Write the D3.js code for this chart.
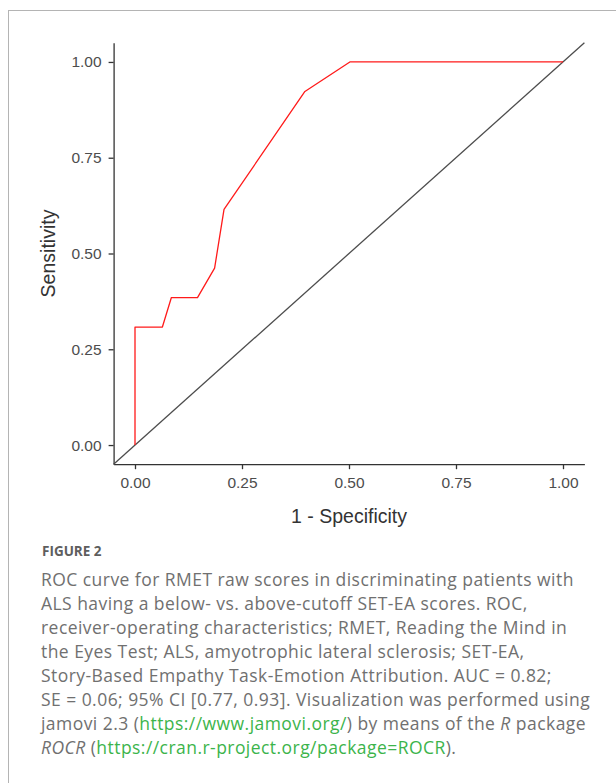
<!DOCTYPE html>
<html>
<head>
<meta charset="utf-8">
<script src="https://cdn.jsdelivr.net/npm/d3@7"></script>
<style>
  body { margin: 0; background: #fff; }
  svg { display: block; }
  .tick text { font-family: "Liberation Sans", Arial, sans-serif; }
</style>
</head>
<body>
<svg id="chart"></svg>
<script>
// ROC points
const fpr = [0, 0, 0.064, 0.085, 0.146, 0.186, 0.208, 0.397, 0.502, 1.0];
const tpr = [0, 0.308, 0.308, 0.385, 0.385, 0.462, 0.615, 0.923, 1.0, 1.0];
const refLine = [-0.05, 1.05];
const tickVals = [0, 0.25, 0.5, 0.75, 1];
const xTitle = '1 - Specificity', yTitle = 'Sensitivity';
const figLabel = 'FIGURE 2';
// caption lines, segments: [text, kind]
const caption = [
  [['ROC curve for RMET raw scores in discriminating patients with', 't']],
  [['ALS having a below- vs. above-cutoff SET-EA scores. ROC,', 't']],
  [['receiver-operating characteristics; RMET, Reading the Mind in', 't']],
  [['the Eyes Test; ALS, amyotrophic lateral sclerosis; SET-EA,', 't']],
  [['Story-Based Empathy Task-Emotion Attribution. AUC = 0.82;', 't']],
  [['SE = 0.06; 95% CI [0.77, 0.93]. Visualization was performed using', 't']],
  [['jamovi 2.3 (', 't'], ['https://www.jamovi.org/', 'a'], [') by means of the ', 't'], ['R', 'i'], [' package', 't']],
  [['ROCR', 'i'], [' (', 't'], ['https://cran.r-project.org/package=ROCR', 'a'], [').', 't']]
];

const W = 616, H = 783;
const svg = d3.select('#chart').attr('width', W).attr('height', H);

// frame
svg.append('rect')
  .attr('x', 8.5).attr('y', 10.5)
  .attr('width', 700).attr('height', 900)
  .attr('fill', 'none').attr('stroke', '#b4b4b4').attr('stroke-width', 1);

const xScale = d3.scaleLinear().domain([-0.05, 1.05]).range([113.6, 584.4]);
const yScale = d3.scaleLinear().domain([-0.05, 1.05]).range([464.2, 42.8]);

const axisCol = '#333333', tickTxt = '#4d4d4d';

const xAxis = d3.axisBottom(xScale).tickValues(tickVals).tickFormat(d3.format('.2f'))
  .tickSizeInner(5).tickSizeOuter(0).tickPadding(8);
const yAxis = d3.axisLeft(yScale).tickValues(tickVals).tickFormat(d3.format('.2f'))
  .tickSizeInner(5).tickSizeOuter(0).tickPadding(7);

const gx = svg.append('g').attr('transform', `translate(0, ${yScale(-0.05)})`).call(xAxis);
const gy = svg.append('g').attr('transform', `translate(${xScale(-0.05)}, 0)`).call(yAxis);
[gx, gy].forEach(g => {
  g.select('.domain').attr('stroke', axisCol).attr('stroke-width', 1.3);
  g.selectAll('.tick line').attr('stroke', axisCol).attr('stroke-width', 1.3);
  g.selectAll('.tick text').attr('fill', tickTxt).style('font-size', '15.5px');
});

// chance diagonal
svg.append('line')
  .attr('x1', xScale(refLine[0])).attr('y1', yScale(refLine[0]))
  .attr('x2', xScale(refLine[1])).attr('y2', yScale(refLine[1]))
  .attr('stroke', '#4d4d4d').attr('stroke-width', 1.3);

// ROC curve
const pts = fpr.map((v, i) => [v, tpr[i]]);
svg.append('path')
  .datum(pts)
  .attr('fill', 'none')
  .attr('stroke', '#ff1a1a')
  .attr('stroke-width', 1.3)
  .attr('stroke-linejoin', 'round')
  .attr('d', d3.line().x(d => xScale(d[0])).y(d => yScale(d[1])));

// axis titles
svg.append('text')
  .attr('x', (xScale(-0.05) + xScale(1.05)) / 2).attr('y', 523)
  .attr('text-anchor', 'middle')
  .style('font-family', '"Liberation Sans", Arial, sans-serif')
  .style('font-size', '19.5px').attr('fill', '#333')
  .text(xTitle);
svg.append('text')
  .attr('transform', `translate(55, ${(yScale(-0.05) + yScale(1.05)) / 2}) rotate(-90)`)
  .attr('text-anchor', 'middle')
  .style('font-family', '"Liberation Sans", Arial, sans-serif')
  .style('font-size', '19.5px').attr('fill', '#333')
  .text(yTitle);

// caption
svg.append('text')
  .attr('x', 42).attr('y', 556)
  .style('font-family', '"Open Sans", sans-serif')
  .style('font-size', '13.5px').style('font-weight', 700)
  .attr('fill', '#5e5e5e')
  .text(figLabel);

const capG = svg.append('g')
  .style('font-family', '"Open Sans", sans-serif')
  .style('font-size', '17.5px')
  .style('letter-spacing', '0.45px');
caption.forEach((segs, i) => {
  const t = capG.append('text').attr('x', 41).attr('y', 586 + i * 24);
  segs.forEach(([s, kind]) => {
    const sp = t.append('tspan').text(s)
      .attr('fill', kind === 'a' ? '#3cb44b' : '#707070');
    if (kind === 'i') sp.style('font-style', 'italic');
  });
});
</script>
</body>
</html>
